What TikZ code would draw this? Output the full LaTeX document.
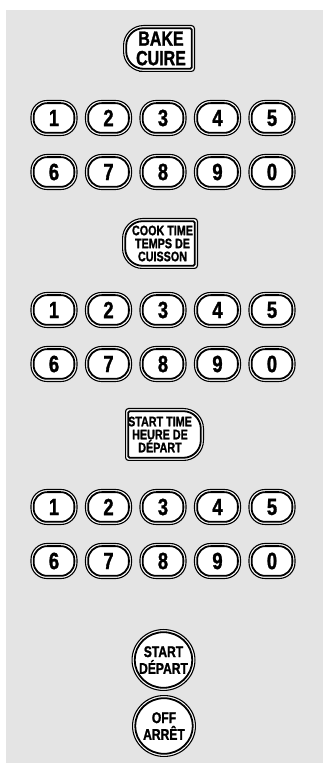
\documentclass[tikz,border=0pt]{standalone}
\usepackage{fontspec}
\newfontfamily\condb{Liberation Sans}[FakeStretch=0.78, FakeBold=1.3]
\definecolor{bggray}{RGB}{228,228,228}
\tikzset{
  keyout/.style={draw=black, line width=1.1pt, rounded corners=16pt, fill=white},
  keyin/.style={draw=black, line width=1.8pt, rounded corners=13.5pt, minimum width=40.7pt, minimum height=29.7pt, inner sep=0pt, outer sep=0pt, font=\condb\bfseries\fontsize{23.5}{23}\selectfont},
  ftext/.style={inner sep=0pt, align=center, font=\condb\bfseries\fontsize{13.8}{13}\selectfont},
  btext/.style={inner sep=0pt, align=center, font=\condb\bfseries\fontsize{20.5}{19.5}\selectfont},
  ctext/.style={inner sep=0pt, align=center, font=\condb\bfseries\fontsize{15.5}{16.7}\selectfont},
  outline/.style={draw=black, line width=1.1pt, fill=white},
  inline/.style={draw=black, line width=1.8pt},
}
% #1 name, #2 x, #3 y, #4 text
\newcommand{\numkey}[4]{%
  \draw[keyout] ({#2-23},{#3-17.5}) rectangle ({#2+23},{#3+17.5});
  \node[keyin] (#1) at (#2,#3) {#4};
}
% D-shaped key: #1 x, #2 y, #3 half width, #4 half height, #5 direction (1 = round on left, -1 = round on right)
\newcommand{\dframe}[5]{%
  \begin{scope}[shift={(#1,#2)}, xscale=#5]
    \draw[outline] (0,{#4-0.55}) [rounded corners=20pt] -- ({-(#3-0.55)},{#4-0.55}) -- ({-(#3-0.55)},{-(#4-0.55)}) -- (0,{-(#4-0.55)}) [rounded corners=3pt] -- ({#3-0.55},{-(#4-0.55)}) -- ({#3-0.55},{#4-0.55}) -- cycle;
    \draw[inline] (0,{#4-3.2}) [rounded corners=17.5pt] -- ({-(#3-3.2)},{#4-3.2}) -- ({-(#3-3.2)},{-(#4-3.2)}) -- (0,{-(#4-3.2)}) [rounded corners=1.5pt] -- ({#3-3.2},{-(#4-3.2)}) -- ({#3-3.2},{#4-3.2}) -- cycle;
  \end{scope}
}
% round key: #1 x, #2 y, #3 rx, #4 ry
\newcommand{\cframe}[4]{%
  \draw[outline] (#1,#2) ellipse [x radius={#3-0.55}, y radius={#4-0.55}];
  \draw[inline] (#1,#2) ellipse [x radius={#3-3.2}, y radius={#4-3.2}];
}
\begin{document}
\begin{tikzpicture}[x=1pt,y=1pt]
\useasboundingbox (0,0) rectangle (323,763);
\fill[bggray] (6,0) rectangle (323,753);

% BAKE
\dframe{159}{714.5}{36}{23.5}{1}
\node[btext] (bake) at (161,714.5) {BAKE\\CUIRE};

% group 1
\numkey{a1}{54}{645}{1}
\numkey{a2}{108.5}{645}{2}
\numkey{a3}{163}{645}{3}
\numkey{a4}{217.5}{645}{4}
\numkey{a5}{272}{645}{5}
\numkey{a6}{54}{591}{6}
\numkey{a7}{108.5}{591}{7}
\numkey{a8}{163}{591}{8}
\numkey{a9}{217.5}{591}{9}
\numkey{a0}{272}{591}{0}

% COOK TIME
\dframe{160}{519.5}{38}{25.5}{1}
\node[ftext] (cook) at (162.5,519.5) {COOK TIME\\TEMPS DE\\CUISSON};

% group 2
\numkey{b1}{54}{453}{1}
\numkey{b2}{108.5}{453}{2}
\numkey{b3}{163}{453}{3}
\numkey{b4}{217.5}{453}{4}
\numkey{b5}{272}{453}{5}
\numkey{b6}{54}{399}{6}
\numkey{b7}{108.5}{399}{7}
\numkey{b8}{163}{399}{8}
\numkey{b9}{217.5}{399}{9}
\numkey{b0}{272}{399}{0}

% START TIME
\dframe{164.5}{328.5}{39.5}{26.5}{-1}
\node[ftext] (stime) at (160,328.5) {START TIME\\HEURE DE\\DÉPART};

% group 3
\numkey{c1}{54}{256}{1}
\numkey{c2}{108.5}{256}{2}
\numkey{c3}{163}{256}{3}
\numkey{c4}{217.5}{256}{4}
\numkey{c5}{272}{256}{5}
\numkey{c6}{54}{202}{6}
\numkey{c7}{108.5}{202}{7}
\numkey{c8}{163}{202}{8}
\numkey{c9}{217.5}{202}{9}
\numkey{c0}{272}{202}{0}

% START / OFF
\cframe{163.5}{103}{32}{31}
\node[ctext] (start) at (163.5,103) {START\\DÉPART};
\cframe{164}{37}{32}{31}
\node[ctext] (off) at (164,37) {OFF\\ARRÊT};
\end{tikzpicture}
\end{document}
